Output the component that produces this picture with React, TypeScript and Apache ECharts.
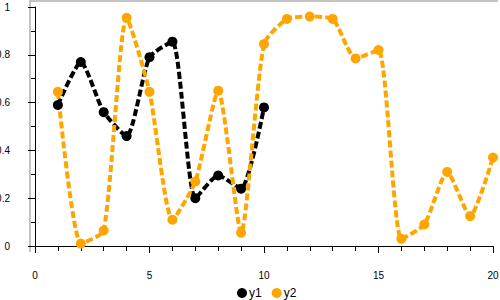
import React, { useEffect, useRef } from "react";
import * as echarts from "echarts";

const xs1 = [1, 2, 3, 4, 5, 6, 7, 8, 9, 10];
const y1 = [0.59, 0.77, 0.56, 0.46, 0.79, 0.855, 0.2, 0.295, 0.24, 0.58];
const xs2 = [1, 2, 3, 4, 5, 6, 7, 8, 9, 10, 11, 12, 13, 14, 15, 16, 17, 18, 19, 20];
const y2 = [0.645, 0.01, 0.065, 0.955, 0.645, 0.11, 0.27, 0.65, 0.055, 0.845, 0.95, 0.96, 0.95, 0.785, 0.82, 0.03, 0.09, 0.31, 0.125, 0.37];
const seriesNames = ["y1", "y2"];
const colors = ["#000000", "#FFA500"];

export default function App() {
  const ref = useRef<HTMLDivElement>(null);
  useEffect(() => {
    if (!ref.current) return;
    const chart = echarts.init(ref.current, null, { renderer: "svg" });
    const font = "Liberation Sans, Arial, sans-serif";
    const mk = (name: string, xs: number[], ys: number[], color: string) => ({
      name,
      type: "line",
      data: xs.map((x, i) => [x, ys[i]]),
      smooth: 0.2,
      symbol: "circle",
      symbolSize: 10,
      itemStyle: { color },
      lineStyle: { color, width: 4, type: [7, 3] },
    });
    chart.setOption({
      animation: false,
      backgroundColor: "#ffffff",
      color: colors,
      grid: { left: 35, right: 7, top: 7, bottom: 54, containLabel: false, outerBoundsMode: "none" },
      legend: {
        data: seriesNames.map((n) => ({ name: n, icon: "circle" })),
        left: 232,
        top: 282,
        itemWidth: 10,
        itemHeight: 10,
        itemGap: 10,
        textStyle: { fontSize: 12, fontFamily: font, color: "#000", padding: [0, 0, 0, -3] },
      },
      graphic: [
        { type: "line", shape: { x1: 30, y1: 0, x2: 30, y2: 252 }, style: { stroke: "#c4c4c4", lineWidth: 2 }, z: -1 },
        { type: "line", shape: { x1: 29, y1: 1, x2: 498, y2: 1 }, style: { stroke: "#c4c4c4", lineWidth: 2 }, z: -1 },
      ],
      xAxis: {
        type: "value",
        min: 0,
        max: 20,
        interval: 5,
        offset: 11,
        axisLine: { show: true, lineStyle: { color: "#000", width: 1 } },
        axisTick: { show: true, length: 7, lineStyle: { color: "#000" } },
        minorTick: { show: true, splitNumber: 5, length: 5, lineStyle: { color: "#000" } },
        axisLabel: { fontSize: 10, fontFamily: font, color: "#000", margin: 13 },
        splitLine: { show: false },
      },
      yAxis: {
        type: "value",
        min: 0,
        max: 1,
        interval: 0.2,
        offset: 9,
        axisLine: { show: true, lineStyle: { color: "#000", width: 1 } },
        axisTick: { show: true, length: 7, lineStyle: { color: "#000" } },
        minorTick: { show: true, splitNumber: 2, length: 4, lineStyle: { color: "#000" } },
        axisLabel: { fontSize: 10, fontFamily: font, color: "#000", margin: 16 },
        splitLine: { show: false },
      },
      series: [mk(seriesNames[0], xs1, y1, colors[0]), mk(seriesNames[1], xs2, y2, colors[1])],
    });
    return () => chart.dispose();
  }, []);
  return <div ref={ref} style={{ width: 500, height: 300, position: "absolute", left: 0, top: 0 }} />;
}
